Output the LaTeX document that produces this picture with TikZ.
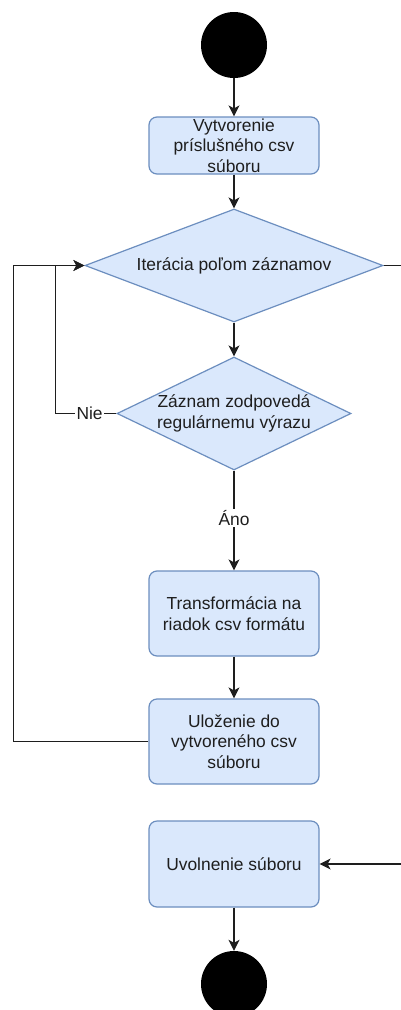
\documentclass[tikz,border=0pt]{standalone}
\usepackage{fontspec}
\setmainfont{Liberation Sans}
\usetikzlibrary{arrows.meta,shapes.geometric}
\definecolor{boxfill}{HTML}{DAE8FC}
\definecolor{boxline}{HTML}{6C8EBF}
\definecolor{ink}{HTML}{1E1E1E}
\begin{document}
\begin{tikzpicture}[x=1pt,y=-1pt,
  every node/.style={font=\fontsize{17.4}{20.5}\selectfont, text=ink},
  terminal/.style={circle, fill=black, draw=none, minimum size=66pt, inner sep=0pt},
  actbox/.style={rectangle, rounded corners=8pt, draw=boxline, fill=boxfill, line width=1.2pt,
                 minimum width=170pt, minimum height=86pt, align=center, inner sep=0pt},
  decision/.style={diamond, draw=boxline, fill=boxfill, line width=1.2pt, inner sep=0pt},
  dtext/.style={align=center, inner sep=0pt},
  flow/.style={draw=ink, line width=1.3pt, -{Stealth[length=11pt,width=11pt,inset=3pt]}},
  lbl/.style={fill=white, inner sep=1.5pt}]
\clip (0,0) rectangle (401,1010);
\fill[white] (0,0) rectangle (401,1010);

% start and end points
\node[terminal] (start) at (234,45) {};
\node[terminal] (stop) at (234,984) {};

% activities
\node[actbox, minimum height=57pt] (b1) at (234,145.5) {Vytvorenie\\príslušného csv\\súboru};
\node[actbox, minimum height=85pt] (b2) at (234,613.5) {Transformácia na\\riadok csv formátu};
\node[actbox, minimum height=85pt] (b3) at (234,741.5) {Uloženie do\\vytvoreného csv\\súboru};
\node[actbox, minimum height=86pt] (b4) at (234,864) {Uvolnenie súboru};

% decisions
\node[decision, minimum width=298pt, minimum height=113pt] (d1) at (234,265.5) {};
\node[dtext] (d1t) at (d1) {Iterácia poľom záznamov};
\node[decision, minimum width=234pt, minimum height=113pt] (d2) at (234,413.5) {};
\node[dtext] (d2t) at (d2) {Záznam zodpovedá\\regulárnemu výrazu};

% main flow
\draw[flow] (start) -- (b1);
\draw[flow] (b1) -- (d1);
\draw[flow] (d1) -- (d2);
\draw[flow] (d2) -- node[lbl, pos=0.475] {Áno} (b2);
\draw[flow] (b2) -- (b3);
\draw[flow] (b4) -- (stop);

% loops back to the iteration
\draw[flow] (d2.west) -- node[lbl, pos=0.44] {Nie} ++(-61,0) |- (d1.west);
\draw[flow] (b3.west) -- ++(-135,0) |- (d1.west);

% end of iteration leads to releasing the file
\coordinate (rside) at (440,265.5);
\draw[flow] (d1.east) -- (rside) |- (b4.east);
\end{tikzpicture}
\end{document}
